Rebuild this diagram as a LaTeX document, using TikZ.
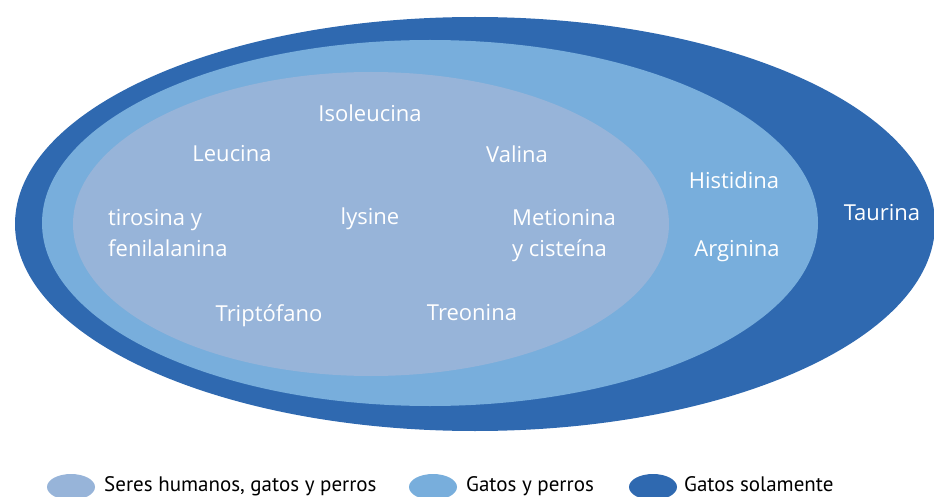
\documentclass[tikz,border=0pt]{standalone}
\usepackage{fontspec}
\usetikzlibrary{shapes.geometric}
\newfontfamily\aminofont{Open Sans}
\newfontfamily\legendfont{PT Sans}
\definecolor{humancol}{HTML}{97B4D9}
\definecolor{dogcol}{HTML}{78AEDC}
\definecolor{catcol}{HTML}{2F69B0}

\begin{document}
\begin{tikzpicture}[x=1pt,y=-1pt,
    amino/.style={text=white, inner sep=0pt, font=\aminofont\fontsize{22}{31}\selectfont},
    aminoblock/.style={amino, anchor=west, align=left},
    legmark/.style={ellipse, minimum width=48pt, minimum height=26pt, inner sep=0pt},
    legtext/.style={anchor=base west, inner sep=0pt, text=black, font=\legendfont\fontsize{21}{24}\selectfont}]
        \useasboundingbox (0,0) rectangle (934,497);
        % Ellipses, outer to inner
        \fill[catcol] (475,224) ellipse [x radius=460, y radius=207];
        \fill[dogcol] (430,223) ellipse [x radius=388, y radius=183];
        \fill[humancol] (371,224) ellipse [x radius=298, y radius=152];
        % Seres humanos, gatos y perros
        \node[amino] (iso) at (370,113) {Isoleucina};
        \node[amino] (leu) at (232,154) {Leucina};
        \node[amino] (val) at (517,154) {Valina};
        \node[aminoblock] (tir) at (108,233) {tirosina y\\fenilalanina};
        \node[amino] (lys) at (370,219) {lysine};
        \node[aminoblock] (met) at (512,236) {Metionina\\y cisteína};
        \node[amino] (tri) at (269,316) {Triptófano};
        \node[amino] (tre) at (472,313) {Treonina};
        % Gatos y perros
        \node[amino] (his) at (734,180) {Histidina};
        \node[amino] (arg) at (737,251) {Arginina};
        % Gatos solamente
        \node[amino] (tau) at (882,213) {Taurina};
        % Legend
        \node[legmark, fill=humancol] (mark1) at (71,487) {};
        \node[legtext] (leg1) at (104,491) {Seres humanos, gatos y perros};
        \node[legmark, fill=dogcol] (mark2) at (433,487) {};
        \node[legtext] (leg2) at (466,491) {Gatos y perros};
        \node[legmark, fill=catcol] (mark3) at (653,487) {};
        \node[legtext] (leg3) at (684,491) {Gatos solamente};
      \end{tikzpicture}
\end{document}
